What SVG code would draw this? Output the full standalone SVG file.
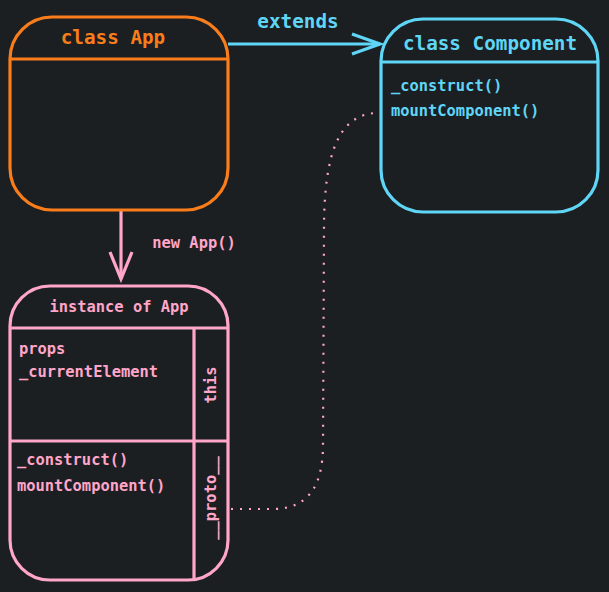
<svg xmlns="http://www.w3.org/2000/svg" width="609" height="592" viewBox="0 0 609 592">
<style>
.t{font-family:"DejaVu Sans Mono","Liberation Mono",monospace;font-weight:bold}
.title{font-size:19.3px}
.item{font-size:15.4px}
.orange{stroke:#f97d1a;fill:none;stroke-width:3.2}
.cyan{stroke:#5fd6f6;fill:none;stroke-width:3.2}
.pink{stroke:#ffa6c9;fill:none;stroke-width:3.2}
</style>
<rect width="609" height="592" fill="#1c1f22"/>
<g id="connectors">
<g id="extends">
<line x1="228" y1="44" x2="380" y2="44" class="cyan"/>
<polyline points="352,34 380,44 352,54" class="cyan" stroke-width="3.5"/>
<text x="298" y="28" text-anchor="middle" class="t title" fill="#5fd6f6">extends</text>
</g>
<g id="new-app">
<line x1="121" y1="210" x2="121" y2="279" class="pink"/>
<polyline points="110,252 121,279 132,252" class="pink" stroke-width="3.5"/>
<text x="194" y="248" text-anchor="middle" class="t item" fill="#ffa6c9">new App()</text>
</g>
<path id="proto-link" d="M 231 509 L 275 509 C 305 508 323 490 323 445 L 324 230 C 324 150 340 115 376 113" fill="none" stroke="#ffa6c9" stroke-width="2.2" stroke-dasharray="2 7"/>
</g>
<g id="class-app">
<rect x="10" y="17" width="218" height="193" rx="42" class="orange"/>
<line x1="10" y1="59" x2="228" y2="59" class="orange"/>
<text x="113" y="44" text-anchor="middle" class="t title" fill="#f97d1a">class App</text>
</g>
<g id="class-component">
<rect x="381" y="19" width="217" height="193" rx="42" class="cyan"/>
<line x1="381" y1="62" x2="598" y2="62" class="cyan"/>
<text x="490" y="50" text-anchor="middle" class="t title" fill="#5fd6f6">class Component</text>
<text x="391" y="91" class="t item" fill="#5fd6f6">_construct()</text>
<text x="391" y="116" class="t item" fill="#5fd6f6">mountComponent()</text>
</g>
<g id="instance-app">
<rect x="10" y="286" width="218" height="294" rx="40" class="pink"/>
<line x1="10" y1="328" x2="228" y2="328" class="pink"/>
<line x1="10" y1="441" x2="228" y2="441" class="pink"/>
<line x1="194" y1="328" x2="194" y2="580" class="pink"/>
<text x="119" y="312" text-anchor="middle" class="t item" fill="#ffa6c9">instance of App</text>
<text x="19" y="354" class="t item" fill="#ffa6c9">props</text>
<text x="19" y="377" class="t item" fill="#ffa6c9">_currentElement</text>
<text x="17" y="465" class="t item" fill="#ffa6c9">_construct()</text>
<text x="17" y="491" class="t item" fill="#ffa6c9">mountComponent()</text>
<text transform="translate(216 385) rotate(-90)" text-anchor="middle" class="t item" fill="#ffa6c9">this</text>
<text transform="translate(216 498) rotate(-90)" text-anchor="middle" class="t item" fill="#ffa6c9">__proto__</text>
</g>
</svg>
